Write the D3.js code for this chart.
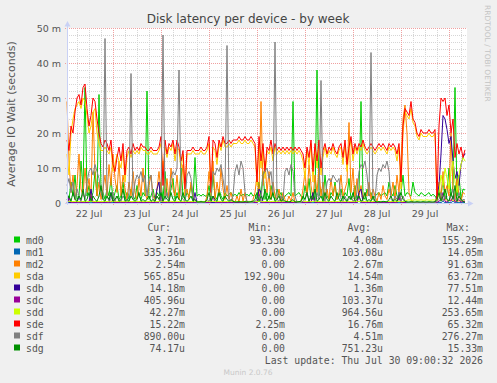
<!DOCTYPE html>
<html lang="en">
<head>
<meta charset="UTF-8">
<title>Disk latency per device - by week</title>
<style>
    body { margin: 0; background: #f0f0f0; }
    svg { display: block; }
    text { font-family: "DejaVu Sans", sans-serif; fill: #555; }
    .mono { font-family: "DejaVu Sans Mono", monospace; font-size: 9.8px; }
</style>
</head>
<body>
<svg id="chart" width="497" height="383"></svg>
<script src="https://d3js.org/d3.v7.min.js"></script>
<script>
// hourly samples, first one at Jul 22 01:00, values in milliseconds (m)
const startTime = Date.UTC(2026, 6, 22, 1, 0, 0);
const endTime = Date.UTC(2026, 6, 30, 9, 0, 0);

const names = ["md0", "md1", "md2", "sda", "sdb", "sdc", "sdd", "sde", "sdf", "sdg"];
const colors = ["#00CC00", "#0066B3", "#FF8000", "#FFCC00", "#330099", "#990099", "#CCFF00", "#FF0000", "#808080", "#008F00"];
const curText = ["3.71m", "335.36u", "2.54m", "565.85u", "14.18m", "405.96u", "42.27m", "15.22m", "890.00u", "74.17u"];
const minText = ["93.33u", "0.00", "0.00", "192.90u", "0.00", "0.00", "0.00", "2.25m", "0.00", "0.00"];
const avgText = ["4.08m", "103.08u", "2.67m", "14.54m", "1.36m", "103.37u", "964.56u", "16.76m", "4.51m", "751.23u"];
const maxText = ["155.29m", "14.05m", "91.63m", "63.72m", "77.51m", "12.44m", "253.65m", "65.32m", "276.27m", "15.33m"];

const md0 = [
    3, 1, 6, 2, 8, 1, 2, 12, 4, 33,
    2, 5, 1, 3, 9, 2, 31, 4, 3, 1,
    4, 2, 7, 1, 3, 5, 1, 2, 6, 1,
    3, 1, 4, 2, 1, 5, 2, 1, 3, 2,
    32, 1, 2, 4, 1, 3, 2, 6, 1, 9,
    2, 1, 4, 7, 1, 3, 1, 10, 2, 1,
    3, 2, 5, 1, 13, 2, 2.5, 2, 2.5, 2,
    2, 5, 1, 8, 2, 1, 4, 2, 1, 3,
    2, 2.5, 3, 2, 2.5, 2, 3, 2, 2.5, 2,
    2.5, 2, 3, 2, 2.5, 1, 6, 2, 9, 1,
    3, 1, 5, 2, 1, 4, 2, 3, 1, 2,
    2.5, 3, 2, 29, 2, 2.5, 3, 2, 1, 5,
    2, 7, 1, 3, 1, 38, 2, 4, 1, 8,
    2, 1, 3, 2, 6, 1, 2, 4, 1, 3,
    2, 7, 1, 2, 5, 1, 3, 29, 2, 1,
    4, 2, 3, 1, 2, 2.5, 3, 2, 2.5, 3,
    2, 6, 3, 2, 5, 2, 1, 3, 8, 2,
    3, 2.5, 2, 6, 3, 2.5, 2, 3, 2.5, 2,
    2.5, 3, 2, 2.5, 2, 1, 4, 2, 7, 1,
    3, 10, 2, 5, 33, 2, 8, 1, 4, 3.7
];
const md1 = [
    0.1, 0.2, 0.1, 0.1, 0.1, 0.2, 0.1, 0.1, 0.5, 0.1,
    0.1, 0.1, 0.2, 0.1, 0.1, 0.1, 0.1, 0.2, 0.1, 0.1,
    0.2, 0.1, 0.1, 0.1, 0.1, 0.2, 0.1, 0.1, 0.1, 0.1,
    0.1, 0.1, 0.1, 0.2, 0.1, 0.1, 0.1, 0.1, 0.1, 0.1,
    0.1, 0.1, 0.1, 0.1, 0.1, 0.1, 0.5, 0.1, 0.1, 0.1,
    0.1, 0.2, 0.1, 0.1, 0.1, 0.1, 0.1, 0.1, 0.2, 0.1,
    0.1, 0.1, 0.1, 0.1, 0.1, 0.1, 0.1, 0.1, 0.1, 0.1,
    0.1, 0.1, 0.2, 0.1, 0.1, 0.1, 0.1, 0.1, 0.1, 0.1,
    0.1, 0.1, 0.1, 0.1, 0.1, 0.1, 0.1, 0.1, 0.1, 0.1,
    0.1, 0.1, 0.1, 0.1, 0.1, 0.2, 0.5, 0.1, 0.1, 0.1,
    0.1, 0.1, 0.1, 0.1, 0.1, 0.1, 0.1, 0.1, 0.1, 0.1,
    0.1, 0.1, 0.1, 0.1, 0.1, 0.1, 0.1, 0.1, 0.1, 0.2,
    0.1, 0.1, 0.1, 0.2, 0.1, 0.1, 0.1, 0.1, 0.1, 0.1,
    0.1, 0.1, 0.1, 0.1, 0.1, 0.1, 0.1, 0.1, 0.1, 0.1,
    0.1, 0.1, 0.1, 0.1, 0.1, 0.1, 0.5, 0.1, 0.1, 0.1,
    0.1, 0.1, 0.1, 0.1, 0.1, 0.1, 0.1, 0.1, 0.1, 0.1,
    0.1, 0.1, 0.1, 0.1, 0.1, 0.1, 0.2, 0.1, 0.1, 0.1,
    0.1, 0.1, 0.1, 0.1, 0.1, 0.1, 0.1, 0.1, 0.1, 0.1,
    0.1, 0.1, 0.1, 0.1, 0.1, 0.1, 0.2, 0.1, 0.5, 0.1,
    0.2, 0.1, 0.1, 0.5, 0.1, 0.1, 0.2, 0.1, 0.1, 0.3
];
const md2 = [
    29, 12, 3, 8, 1, 5, 14, 4, 2, 10,
    3, 7, 1, 26, 9, 2, 6, 1, 4, 8,
    2, 11, 5, 14, 7, 3, 12, 2, 8, 4,
    1, 6, 2, 9, 3, 1, 7, 2, 10, 3,
    1, 5, 8, 2, 1, 4, 9, 3, 12, 2,
    7, 1, 10, 4, 2, 8, 1, 5, 11, 2,
    4, 1, 6, 2, 1, 0.2, 0.1, 0.2, 0.1, 0.1,
    2, 9, 3, 12, 1, 6, 2, 10, 4, 1,
    5, 1, 3, 0.5, 0.2, 2, 0.3, 4, 0.5, 3,
    0.2, 0.1, 0.3, 1, 3, 8, 2, 29, 5, 12,
    3, 9, 1, 6, 2, 1, 4, 0.5, 3, 1,
    0.3, 2, 0.5, 3, 0.2, 0.1, 0.3, 0.5, 4, 9,
    2, 11, 5, 1, 8, 3, 10, 2, 6, 1,
    4, 1, 7, 2, 5, 1, 3, 8, 2, 4,
    6, 23, 3, 10, 1, 7, 2, 5, 1, 3,
    2, 6, 1, 4, 2, 0.5, 3, 1, 5, 2,
    1, 4, 2, 6, 1, 8, 3, 12, 24, 28,
    20, 3, 1, 0.2, 0.1, 0.2, 0.1, 0.1, 0.2, 0.1,
    0.2, 0.1, 0.1, 0.2, 0.1, 2, 6, 1, 9, 3,
    5, 2, 20, 4, 1, 7, 2, 0.5, 3, 2.5
];
const sda = [
    14, 8, 20, 24, 27, 28, 29, 27, 30, 29,
    25, 20, 22, 26, 27, 20, 17, 15, 15, 16,
    15, 14, 16, 9, 11, 14, 12, 10, 15, 6,
    13, 15, 13, 15, 14, 15, 14, 16, 15, 15,
    14, 14, 15, 14, 14, 14, 15, 17, 8, 16,
    13, 16, 15, 17, 12, 16, 15, 10, 14, 2,
    14, 14, 14, 15, 14, 14, 14, 15, 14, 14,
    15, 17, 2, 16, 15, 11, 17, 15, 18, 16,
    16, 17, 16, 17, 17, 17, 18, 17, 17, 18,
    17, 17, 18, 17, 16, 5, 17, 10, 16, 7,
    15, 14, 16, 12, 16, 14, 15, 14, 15, 14,
    15, 14, 15, 14, 15, 14, 15, 14, 12, 7,
    15, 11, 17, 6, 16, 10, 17, 8, 13, 16,
    13, 15, 14, 16, 14, 13, 15, 16, 11, 17,
    9, 15, 18, 12, 16, 14, 16, 15, 17, 15,
    14, 15, 16, 15, 14, 15, 16, 15, 16, 15,
    14, 16, 15, 16, 15, 12, 16, 4, 20, 26,
    25, 24, 27, 23, 22, 19, 18, 20, 19, 19,
    19, 20, 19, 19, 20, 0.5, 3, 2, 1, 1,
    0.8, 0.6, 1, 0.7, 0.6, 0.5, 0.6, 0.5, 0.6, 0.57
];
const sdb = [
    3, 0.2, 0.1, 0.2, 0.1, 0.1, 2, 0.2, 0.1, 0.2,
    0.1, 0.2, 4, 0.1, 0.2, 0.1, 0.1, 0.2, 0.1, 0.1,
    0.2, 0.1, 3, 0.2, 0.1, 0.1, 0.2, 0.1, 0.1, 0.2,
    0.1, 0.1, 0.2, 0.1, 0.1, 0.2, 0.1, 0.1, 0.2, 0.1,
    0.1, 0.2, 0.1, 0.1, 0.2, 4, 6, 0.2, 0.1, 0.1,
    0.2, 0.1, 0.1, 0.2, 0.1, 0.1, 0.2, 0.1, 0.1, 0.2,
    0.1, 0.1, 0.2, 0.1, 3, 0.1, 0.1, 0.2, 0.1, 0.1,
    0.2, 0.1, 0.1, 0.2, 0.1, 0.1, 0.2, 0.1, 0.1, 0.2,
    0.1, 0.1, 0.2, 0.1, 0.1, 0.2, 0.1, 0.1, 0.2, 0.1,
    0.1, 0.2, 0.1, 0.1, 0.2, 0.1, 4, 3, 0.2, 0.1,
    0.1, 0.2, 0.1, 0.1, 0.2, 0.1, 0.1, 0.2, 0.1, 0.1,
    0.2, 0.1, 0.1, 0.2, 0.1, 0.1, 0.2, 0.1, 0.1, 0.2,
    0.1, 0.1, 0.2, 3, 0.1, 0.1, 0.2, 0.1, 0.1, 0.2,
    0.1, 0.1, 0.2, 0.1, 0.1, 0.2, 0.1, 0.1, 0.2, 0.1,
    0.1, 0.2, 0.1, 0.1, 0.2, 0.1, 3, 4, 0.2, 0.1,
    0.1, 0.2, 0.1, 0.1, 0.2, 0.1, 0.1, 0.2, 0.1, 0.1,
    0.2, 0.1, 0.1, 0.2, 0.1, 0.1, 3, 0.2, 0.1, 0.1,
    0.2, 0.1, 0.1, 0.2, 0.1, 0.1, 0.2, 0.1, 0.1, 0.2,
    0.1, 0.1, 0.2, 0.1, 0.1, 2, 5, 14, 25, 24,
    21, 17, 19, 12, 7, 9, 5, 11, 13, 14.2
];
const sdc = [
    0.1, 1.5, 0.1, 0.1, 0.2, 0.1, 0.1, 0.1, 0.2, 0.1,
    0.1, 0.2, 2, 0.1, 0.1, 0.1, 0.2, 0.1, 0.1, 0.1,
    0.2, 0.1, 0.1, 1, 0.1, 0.2, 0.1, 0.1, 0.1, 0.2,
    0.1, 0.1, 0.1, 0.2, 0.1, 0.1, 0.1, 0.2, 0.1, 0.1,
    0.1, 0.2, 0.1, 0.1, 0.1, 0.2, 0.1, 2.5, 0.1, 0.1,
    0.1, 0.1, 0.2, 0.1, 0.1, 0.1, 0.2, 0.1, 0.1, 0.1,
    0.1, 0.2, 0.1, 0.1, 0.1, 0.1, 0.1, 0.1, 0.1, 0.1,
    0.1, 0.1, 0.1, 2, 0.1, 0.1, 0.2, 0.1, 0.1, 0.1,
    0.1, 0.1, 0.1, 0.1, 0.1, 0.1, 0.1, 0.1, 0.1, 0.1,
    0.1, 0.1, 0.1, 0.1, 0.1, 0.2, 2.5, 0.1, 0.1, 0.2,
    0.1, 0.1, 0.2, 0.1, 0.1, 0.1, 0.1, 0.1, 0.1, 0.1,
    0.1, 0.1, 0.1, 0.1, 0.1, 0.1, 0.1, 0.1, 0.1, 0.1,
    0.1, 0.2, 0.1, 2, 0.1, 0.1, 0.2, 0.1, 0.1, 0.1,
    0.1, 0.1, 0.1, 0.1, 0.2, 0.1, 0.1, 0.1, 0.1, 0.1,
    0.1, 0.1, 0.1, 0.1, 0.1, 0.1, 2, 0.1, 0.1, 0.1,
    0.1, 0.1, 0.1, 0.1, 0.1, 0.1, 0.1, 0.1, 0.1, 0.1,
    0.1, 0.1, 0.1, 0.1, 0.1, 0.1, 1.5, 0.1, 0.1, 0.1,
    0.1, 0.1, 0.1, 0.1, 0.1, 0.1, 0.1, 0.1, 0.1, 0.1,
    0.1, 0.1, 0.1, 0.1, 0.1, 0.2, 0.5, 1, 3, 0.5,
    0.2, 1, 0.5, 2, 0.3, 0.5, 1, 0.2, 0.5, 0.4
];
const sdd = [
    0.4, 0.5, 0.4, 0.4, 0.5, 0.4, 0.4, 0.5, 0.4, 0.4,
    0.5, 0.4, 0.4, 0.5, 0.4, 0.4, 0.5, 0.4, 0.4, 0.5,
    0.4, 0.4, 0.5, 0.4, 0.4, 0.5, 0.4, 0.4, 0.5, 0.4,
    0.4, 0.5, 0.4, 0.4, 0.5, 0.4, 0.4, 0.5, 0.4, 0.4,
    0.5, 0.4, 0.4, 0.5, 0.4, 0.4, 0.5, 0.4, 0.4, 0.5,
    0.4, 0.4, 0.5, 0.4, 0.4, 0.5, 0.4, 0.4, 0.5, 0.4,
    0.4, 0.5, 0.4, 0.4, 0.5, 0.4, 0.4, 0.5, 0.4, 0.4,
    0.5, 0.4, 0.4, 0.5, 0.4, 0.4, 0.5, 0.4, 0.4, 0.5,
    0.4, 0.4, 0.5, 0.4, 0.4, 0.5, 0.4, 0.4, 0.5, 0.4,
    0.4, 0.5, 0.4, 0.4, 0.5, 0.4, 0.4, 0.5, 0.4, 0.4,
    0.5, 0.4, 0.4, 0.5, 0.4, 0.4, 0.5, 0.4, 0.4, 0.5,
    0.4, 0.4, 0.5, 0.4, 0.4, 0.5, 0.4, 0.4, 0.5, 0.4,
    0.4, 0.5, 0.4, 0.4, 0.5, 0.4, 0.4, 0.5, 0.4, 0.4,
    0.5, 0.4, 0.4, 0.5, 0.4, 0.4, 0.5, 0.4, 0.4, 0.5,
    0.4, 0.4, 0.5, 0.4, 0.4, 0.5, 0.4, 0.4, 0.5, 0.4,
    0.4, 0.5, 0.4, 0.4, 0.5, 0.4, 0.4, 0.5, 0.4, 0.4,
    0.5, 0.4, 0.4, 0.5, 0.4, 0.4, 0.5, 0.4, 0.4, 0.5,
    0.8, 0.9, 0.8, 0.8, 0.9, 0.8, 0.8, 0.9, 0.8, 0.8,
    0.9, 0.8, 0.8, 0.9, 0.8, 1, 3, 8, 5, 10,
    7, 4, 9, 12, 6, 3, 8, 11, 13, 12
];
const sde = [
    18, 15, 22, 20, 26, 30, 31, 28, 33, 34,
    27, 22, 25, 30, 29, 24, 20, 17, 16, 18,
    17, 15, 18, 11, 9, 13, 16, 12, 17, 8,
    15, 16, 14, 17, 15, 16, 15, 17, 16, 16,
    15, 15, 16, 15, 15, 15, 16, 19, 5, 18,
    14, 17, 16, 18, 14, 18, 16, 12, 15, 4,
    15, 15, 15, 16, 15, 15, 15, 16, 15, 15,
    16, 19, 3, 18, 17, 13, 18, 16, 19, 17,
    17, 18, 17, 18, 18, 18, 19, 18, 18, 19,
    18, 18, 19, 18, 17, 6, 19, 12, 17, 9,
    16, 15, 18, 14, 17, 15, 16, 15, 16, 15,
    16, 15, 16, 15, 16, 15, 16, 15, 14, 10,
    16, 13, 18, 9, 17, 12, 18, 10, 15, 17,
    14, 16, 15, 17, 15, 14, 16, 17, 13, 18,
    11, 16, 19, 14, 17, 15, 17, 16, 18, 16,
    15, 16, 17, 16, 15, 16, 17, 16, 17, 16,
    15, 17, 16, 17, 16, 14, 17, 6, 22, 27,
    26, 25, 29, 24, 23, 20, 19, 21, 20, 20,
    20, 21, 20, 20, 21, 1, 22, 30, 29, 30,
    25, 28, 20, 24, 13, 17, 14, 16, 13, 15.2
];
const sdf = [
    5, 7, 3, 6, 1, 4, 2, 0.5, 3, 1,
    6, 9, 10, 8, 11, 9, 7, 3, 1, 47,
    2, 0.5, 1, 3, 0.5, 2, 1, 0.5, 2, 1,
    0.5, 3, 37, 1, 6, 8, 7, 9, 6, 8,
    2, 7, 8, 1, 0.5, 2, 1, 0.5, 48, 1,
    3, 0.5, 7, 9, 8, 10, 38, 2, 1, 0.5,
    8, 9, 7, 2, 1, 0.1, 0.1, 0.2, 0.1, 0.1,
    1, 0.5, 2, 9, 8, 10, 9, 11, 7, 3,
    45, 1, 0.5, 2, 9, 11, 8, 12, 10, 3,
    0.5, 0.2, 0.1, 0.2, 0.5, 1, 2, 0.5, 8, 9,
    10, 7, 9, 3, 46, 1, 0.5, 2, 0.5, 9,
    10, 8, 11, 9, 2, 0.2, 0.1, 0.2, 0.5, 1,
    3, 0.5, 2, 1, 0.5, 3, 1, 35, 2, 0.5,
    6, 7, 6, 8, 7, 6, 7, 1, 0.5, 2,
    0.5, 1, 2, 0.5, 1, 3, 9, 11, 10, 12,
    8, 2, 43, 1, 0.5, 8, 10, 9, 11, 10,
    12, 9, 1, 0.5, 2, 1, 3, 0.5, 2, 0.5,
    0.2, 0.1, 0.1, 0.2, 0.1, 0.1, 0.2, 0.1, 0.1, 0.2,
    0.1, 0.1, 0.2, 0.1, 0.1, 0.5, 1, 3, 0.5, 2,
    1, 0.5, 2, 4, 1, 0.5, 3, 0.5, 1, 0.9
];
const sdg = [
    1, 2, 0.5, 3, 1, 0.5, 2, 1, 4, 0.5,
    1, 3, 0.5, 2, 1, 0.5, 2, 5, 1, 0.5,
    2, 1, 3, 0.5, 1, 2, 0.5, 1, 4, 0.5,
    1, 0.5, 2, 1, 0.5, 1, 3, 0.5, 1, 0.5,
    1, 2, 0.5, 1, 0.5, 2, 1, 3, 0.5, 2,
    1, 0.5, 3, 1, 0.5, 2, 1, 0.5, 3, 1,
    0.5, 1, 2, 0.5, 1, 0.3, 0.3, 0.4, 0.3, 0.3,
    1, 3, 0.5, 2, 1, 0.5, 3, 1, 0.5, 2,
    1, 0.5, 1, 0.5, 0.3, 0.3, 0.4, 0.3, 0.3, 0.4,
    0.3, 0.3, 0.4, 0.5, 1, 3, 0.5, 2, 1, 4,
    0.5, 2, 1, 3, 0.5, 1, 2, 0.5, 1, 0.5,
    0.4, 0.3, 0.5, 1, 0.3, 0.3, 0.4, 0.5, 2, 1,
    3, 0.5, 2, 1, 4, 0.5, 1, 2, 0.5, 3,
    1, 0.5, 2, 1, 0.5, 3, 1, 0.5, 2, 1,
    0.5, 2, 1, 3, 0.5, 1, 2, 0.5, 1, 3,
    0.5, 1, 0.5, 2, 0.5, 0.3, 0.4, 0.3, 0.5, 0.4,
    0.3, 1, 2, 0.5, 1, 0.5, 2, 3, 1, 0.5,
    0.3, 0.3, 0.4, 0.3, 0.3, 0.4, 0.3, 0.3, 0.4, 0.3,
    0.3, 0.4, 0.3, 0.3, 0.4, 1, 3, 0.5, 2, 4,
    1, 0.5, 3, 1, 5, 0.5, 2, 1, 0.5, 0.1
];

const seriesValues = [md0, md1, md2, sda, sdb, sdc, sdd, sde, sdf, sdg];

const W = 497, H = 383;
const plot = { left: 67, right: 467, top: 28, bottom: 203 };
const hour = 3600 * 1000;

const svg = d3.select("#chart").attr("width", W).attr("height", H);

const x = d3.scaleUtc().domain([startTime, endTime]).range([plot.left, plot.right]);
const y = d3.scaleLinear().domain([0, 50]).range([plot.bottom, plot.top]);

svg.append("rect").attr("width", W).attr("height", H).attr("fill", "#f0f0f0");
svg.append("rect")
    .attr("x", plot.left).attr("y", plot.top)
    .attr("width", plot.right - plot.left).attr("height", plot.bottom - plot.top)
    .attr("fill", "#ffffff");

// title and side texts
svg.append("text")
    .attr("x", 248).attr("y", 23)
    .attr("text-anchor", "middle")
    .style("font-size", "12px")
    .style("fill", "#444")
    .text("Disk latency per device - by week");

svg.append("text")
    .attr("transform", "translate(15,114) rotate(-90)")
    .attr("text-anchor", "middle")
    .style("font-size", "11px")
    .text("Average IO Wait (seconds)");

svg.append("text")
    .attr("transform", "translate(485,5) rotate(90)")
    .style("font-size", "7.5px")
    .style("fill", "#c4c4c4")
    .text("RRDTOOL / TOBI OETIKER");

// grid
const grid = svg.append("g").attr("shape-rendering", "crispEdges").attr("fill", "none");
const yMinor = y.ticks(25).filter(v => v % 10 !== 0);
const yMajor = y.ticks(5).filter(v => v > 0);
const xMinor = d3.utcHour.every(6).range(startTime, endTime).filter(d => d.getUTCHours() !== 0);
const xMajor = d3.utcDay.range(startTime, endTime);

grid.selectAll(".hmin").data(yMinor).join("line")
    .attr("x1", plot.left).attr("x2", plot.right)
    .attr("y1", d => y(d) + 0.5).attr("y2", d => y(d) + 0.5)
    .attr("stroke", "#d6d6d6").attr("stroke-dasharray", "1,1");
grid.selectAll(".vmin").data(xMinor).join("line")
    .attr("x1", d => x(d) + 0.5).attr("x2", d => x(d) + 0.5)
    .attr("y1", plot.top).attr("y2", plot.bottom + 2)
    .attr("stroke", "#d6d6d6").attr("stroke-dasharray", "1,1");
grid.selectAll(".hmaj").data(yMajor).join("line")
    .attr("x1", plot.left - 2).attr("x2", plot.right)
    .attr("y1", d => y(d) + 0.5).attr("y2", d => y(d) + 0.5)
    .attr("stroke", "#f0a0a0").attr("stroke-dasharray", "1,1");
grid.selectAll(".vmaj").data(xMajor).join("line")
    .attr("x1", d => x(d) + 0.5).attr("x2", d => x(d) + 0.5)
    .attr("y1", plot.top).attr("y2", plot.bottom + 3)
    .attr("stroke", "#f0a0a0").attr("stroke-dasharray", "1,1");

// tick labels
svg.append("g").selectAll("text").data(y.ticks(5)).join("text")
    .attr("x", 61).attr("y", d => y(d) + 3.5)
    .attr("text-anchor", "end")
    .style("font-size", "9.5px")
    .text(d => d === 0 ? "0" : d + " m");

const dayLabels = xMajor.map(d => new Date(+d - 12 * hour)).concat([new Date(+xMajor[xMajor.length - 1] + 12 * hour)])
    .filter(d => +d >= startTime && +d <= endTime);
svg.append("g").selectAll("text").data(dayLabels).join("text")
    .attr("x", d => x(d)).attr("y", 217)
    .attr("text-anchor", "middle")
    .style("font-size", "9.5px")
    .text(d3.utcFormat("%d %b"));

// series lines, first name drawn first
const line = d3.line()
    .x((d, i) => x(startTime + i * hour))
    .y(d => y(d));

svg.append("g").selectAll("path").data(seriesValues).join("path")
    .attr("d", line)
    .attr("fill", "none")
    .attr("stroke", (d, i) => colors[i])
    .attr("stroke-width", 1);

// axes with arrows
const axisColor = "#c9d1f5";
svg.append("line").attr("x1", plot.left + 0.5).attr("x2", plot.left + 0.5)
    .attr("y1", plot.bottom + 2).attr("y2", 24)
    .attr("stroke", axisColor).attr("shape-rendering", "crispEdges");
svg.append("path").attr("d", "M64.5,26.5 L70.5,26.5 L67.5,21 Z").attr("fill", axisColor);
svg.append("line").attr("x1", plot.left - 2).attr("x2", 470)
    .attr("y1", plot.bottom + 0.5).attr("y2", plot.bottom + 0.5)
    .attr("stroke", axisColor).attr("shape-rendering", "crispEdges");
svg.append("path").attr("d", "M468,200.5 L468,206.5 L473.5,203.5 Z").attr("fill", axisColor);

// legend
const legend = svg.append("g");
const colX = [171, 272, 371, 470];
["Cur:", "Min:", "Avg:", "Max:"].forEach((h, k) => {
    legend.append("text").attr("class", "mono")
        .attr("x", colX[k]).attr("y", 231)
        .attr("text-anchor", "end").text(h);
});

const valX = [185, 285, 383, 483];
names.forEach((name, i) => {
    const yy = 243.5 + i * 12;
    legend.append("rect")
        .attr("x", 14).attr("y", yy - 7).attr("width", 6).attr("height", 6)
        .attr("fill", colors[i]);
    legend.append("text").attr("class", "mono").attr("x", 26).attr("y", yy).text(name);
    [curText[i], minText[i], avgText[i], maxText[i]].forEach((t, k) => {
        legend.append("text").attr("class", "mono")
            .attr("x", valX[k]).attr("y", yy)
            .attr("text-anchor", "end").text(t);
    });
});

legend.append("text").attr("class", "mono")
    .attr("x", 483).attr("y", 363.5)
    .attr("text-anchor", "end")
    .text("Last update: Thu Jul 30 09:00:32 2026");

svg.append("text")
    .attr("x", 248).attr("y", 375)
    .attr("text-anchor", "middle")
    .style("font-size", "7.5px")
    .style("fill", "#c8c8c8")
    .text("Munin 2.0.76");
</script>
</body>
</html>
